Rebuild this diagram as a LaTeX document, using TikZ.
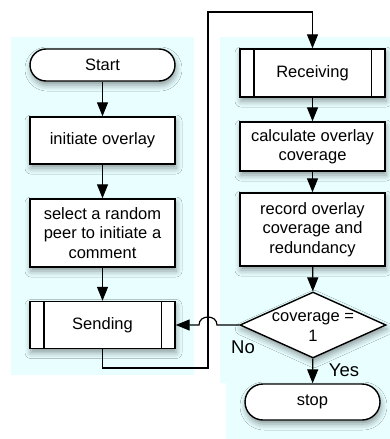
\documentclass[tikz,border=0pt]{standalone}
\usepackage{fontspec}
\setmainfont{Liberation Sans}
\usetikzlibrary{arrows.meta,shapes.geometric,shadows.blur}
\definecolor{lane}{RGB}{232,254,255}
\begin{document}
\begin{tikzpicture}[x=1pt,y=-1pt,
  txt/.style={font=\fontsize{16.5}{19.5}\selectfont, align=center},
  base/.style={txt, draw=black, line width=1.4pt, fill=white, inner sep=0pt,
    blur shadow={shadow xshift=1pt, shadow yshift=-4pt, shadow blur radius=6pt,
      shadow opacity=40}},
  term/.style={base, rectangle, rounded corners=16pt, minimum width=145pt, minimum height=32pt},
  proc/.style={base, rectangle, minimum width=145pt},
  pred/.style={base, rectangle, minimum width=145pt},
  decision/.style={base, diamond, minimum width=146pt, minimum height=66pt},
  flow/.style={draw=black, line width=1.2pt, -{Triangle[length=14pt,width=11pt]}},
  lbl/.style={font=\fontsize{18.5}{22}\selectfont, inner sep=0pt},
]
\useasboundingbox (0,0) rectangle (390,439);

% swimlane backgrounds
\fill[lane] (11,37) rectangle (194,375);
\fill[lane] (220,37) -- (390,37) -- (390,439) -- (226,439) -- (226,383) -- (220,383) -- cycle;

% left lane
\node[term] (start) at (102.5,65) {Start};
\node[proc, minimum height=47pt] (init) at (102.5,140.5) {initiate overlay};
\node[proc, minimum height=68pt] (peer) at (102.5,233) {select a random\\peer to initiate a\\comment};
\node[pred, minimum height=47pt] (send) at (102.5,325) {Sending};

% right lane
\node[pred, minimum height=48pt] (recv) at (312.5,73) {Receiving};
\node[proc, minimum height=49pt] (calc) at (312.5,146.5) {calculate overlay\\coverage};
\node[proc, minimum height=73pt] (rec) at (312.5,229.5) {record overlay\\coverage and\\redundancy};
\node[decision] (dec) at (313,325) {};
\node[txt] (dectext) at (313,327) {coverage =\\1};
\node[term, minimum width=135pt, minimum height=36pt, rounded corners=18pt] (stop) at (312.5,402) {stop};

% side bars of the predefined-process boxes
\foreach \n in {send,recv}{
  \draw[line width=1.4pt] ([xshift=14.5pt]\n.north west) -- ([xshift=14.5pt]\n.south west);
  \draw[line width=1.4pt] ([xshift=-14.5pt]\n.north east) -- ([xshift=-14.5pt]\n.south east);
}

% flow connectors
\draw[flow] (start) -- (init);
\draw[flow] (init) -- (peer);
\draw[flow] (peer) -- (send);
\draw[flow] (recv) -- (calc);
\draw[flow] (calc) -- (rec);
\draw[flow] (rec) -- (dec);
\draw[flow] (dec) -- (stop);

% loop from Sending back to Receiving
\coordinate (loopB) at (208,368);
\coordinate (loopT) at (208,12);
\draw[flow] (send.south) |- (loopB) -- (loopT) -| (recv.north);

% "No" branch, hopping over the loop line
\coordinate (hop) at (208,325);
\draw[flow] (dec.west) -- ([xshift=9pt]hop)
  .. controls ([xshift=9pt,yshift=10.7pt]hop) and ([xshift=-9pt,yshift=10.7pt]hop) ..
  ([xshift=-9pt]hop) -- (send.east);

\node[lbl] (no) at (243,347) {No};
\node[lbl] (yes) at (344,370) {Yes};
\end{tikzpicture}
\end{document}
